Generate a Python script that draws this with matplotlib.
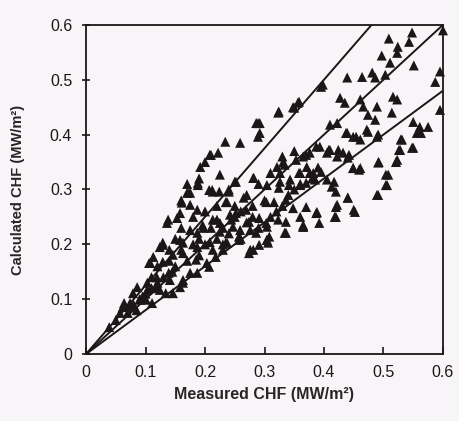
import matplotlib
matplotlib.use("Agg")
import matplotlib.pyplot as plt
import numpy as np

plt.rcParams['font.family'] = ['Liberation Sans', 'DejaVu Sans']

# Measured CHF (x) and calculated CHF (y), MW/m^2
measured = [
    0.600, 0.509, 0.548, 0.543, 0.524, 0.523, 0.497, 0.511, 0.551, 0.595, 0.587, 0.595,
    0.439, 0.464, 0.481, 0.486, 0.503, 0.395, 0.323, 0.348, 0.356, 0.427, 0.435, 0.461,
    0.466, 0.489, 0.516, 0.523, 0.514, 0.474, 0.486, 0.410, 0.422, 0.439, 0.449, 0.472,
    0.461, 0.489, 0.550, 0.561, 0.575, 0.556, 0.531, 0.548, 0.528, 0.523, 0.491, 0.449,
    0.461, 0.508, 0.506, 0.489, 0.393, 0.405, 0.410, 0.422, 0.432, 0.440, 0.376, 0.365,
    0.371, 0.360, 0.334, 0.326, 0.343, 0.376, 0.385, 0.405, 0.413, 0.360, 0.304, 0.292,
    0.292, 0.437, 0.454, 0.474, 0.491, 0.529, 0.563, 0.526, 0.550, 0.521, 0.492, 0.449,
    0.459, 0.408, 0.424, 0.442, 0.504, 0.504, 0.491, 0.417, 0.420, 0.440, 0.420, 0.450,
    0.420, 0.286, 0.324, 0.350, 0.358, 0.398, 0.289, 0.289, 0.259, 0.234, 0.222, 0.208,
    0.192, 0.225, 0.281, 0.250, 0.188, 0.171, 0.213, 0.321, 0.326, 0.210, 0.252, 0.282,
    0.207, 0.224, 0.240, 0.235, 0.331, 0.353, 0.370, 0.387, 0.358, 0.382, 0.395, 0.370,
    0.341, 0.324, 0.303, 0.316, 0.336, 0.348, 0.370, 0.387, 0.252, 0.269, 0.213, 0.244,
    0.274, 0.291, 0.323, 0.336, 0.365, 0.392, 0.286, 0.308, 0.257, 0.365, 0.336, 0.306,
    0.274, 0.291, 0.257, 0.235, 0.218, 0.207, 0.247, 0.303, 0.170, 0.212, 0.237, 0.161,
    0.175, 0.187, 0.138, 0.153, 0.220, 0.242, 0.175, 0.197, 0.225, 0.259, 0.129, 0.163,
    0.187, 0.208, 0.230, 0.276, 0.146, 0.113, 0.136, 0.158, 0.175, 0.188, 0.108, 0.129,
    0.124, 0.158, 0.187, 0.225, 0.213, 0.237, 0.276, 0.304, 0.281, 0.304, 0.158, 0.175,
    0.141, 0.124, 0.203, 0.187, 0.103, 0.079, 0.062, 0.074, 0.091, 0.111, 0.103, 0.086,
    0.119, 0.057, 0.146, 0.163, 0.440, 0.452, 0.422, 0.418, 0.365, 0.388, 0.334, 0.304,
    0.360, 0.129, 0.106, 0.163, 0.139, 0.163, 0.185, 0.134, 0.118, 0.101, 0.064, 0.072,
    0.050, 0.039, 0.250, 0.265, 0.196, 0.145, 0.095, 0.085,
    0.170, 0.190, 0.200, 0.220, 0.230, 0.240, 0.260, 0.270, 0.280, 0.290, 0.310, 0.320,
    0.330, 0.340, 0.350, 0.360, 0.380, 0.390, 0.300, 0.280, 0.260, 0.250, 0.230, 0.210,
    0.190, 0.180, 0.160, 0.150, 0.140, 0.130, 0.120, 0.110, 0.100, 0.090, 0.080, 0.070,
    0.200, 0.220, 0.180, 0.160, 0.150, 0.140, 0.120, 0.110, 0.170, 0.190, 0.200, 0.160,
    0.240, 0.270, 0.290, 0.310, 0.330, 0.350,
]
calculated = [
    0.590, 0.575, 0.586, 0.569, 0.560, 0.549, 0.544, 0.531, 0.526, 0.515, 0.496, 0.445,
    0.504, 0.505, 0.513, 0.504, 0.509, 0.487, 0.440, 0.450, 0.458, 0.467, 0.458, 0.464,
    0.451, 0.451, 0.469, 0.464, 0.440, 0.436, 0.427, 0.418, 0.421, 0.403, 0.396, 0.409,
    0.391, 0.396, 0.423, 0.414, 0.414, 0.403, 0.391, 0.376, 0.372, 0.354, 0.349, 0.339,
    0.339, 0.327, 0.308, 0.290, 0.378, 0.367, 0.372, 0.360, 0.367, 0.358, 0.367, 0.360,
    0.341, 0.330, 0.345, 0.330, 0.318, 0.330, 0.318, 0.318, 0.305, 0.308, 0.308, 0.421,
    0.403, 0.403, 0.396, 0.405, 0.400, 0.391, 0.403, 0.372, 0.376, 0.350, 0.350, 0.339,
    0.336, 0.372, 0.372, 0.363, 0.327, 0.308, 0.290, 0.314, 0.296, 0.285, 0.268, 0.263,
    0.250, 0.421, 0.442, 0.449, 0.460, 0.491, 0.421, 0.396, 0.385, 0.387, 0.367, 0.363,
    0.341, 0.327, 0.321, 0.314, 0.312, 0.294, 0.296, 0.341, 0.314, 0.363, 0.314, 0.321,
    0.299, 0.296, 0.296, 0.277, 0.349, 0.354, 0.363, 0.378, 0.330, 0.330, 0.332, 0.312,
    0.308, 0.303, 0.277, 0.277, 0.281, 0.266, 0.268, 0.257, 0.257, 0.263, 0.245, 0.245,
    0.241, 0.248, 0.245, 0.241, 0.235, 0.239, 0.221, 0.214, 0.214, 0.232, 0.221, 0.203,
    0.184, 0.199, 0.208, 0.203, 0.177, 0.159, 0.232, 0.239, 0.294, 0.299, 0.277, 0.276,
    0.272, 0.263, 0.245, 0.248, 0.245, 0.254, 0.226, 0.230, 0.223, 0.226, 0.203, 0.203,
    0.195, 0.204, 0.190, 0.190, 0.181, 0.177, 0.239, 0.257, 0.294, 0.308, 0.166, 0.168,
    0.195, 0.208, 0.221, 0.239, 0.190, 0.203, 0.226, 0.232, 0.190, 0.208, 0.122, 0.148,
    0.135, 0.117, 0.166, 0.148, 0.117, 0.111, 0.086, 0.093, 0.099, 0.093, 0.130, 0.122,
    0.140, 0.075, 0.111, 0.135, 0.285, 0.259, 0.272, 0.250, 0.232, 0.259, 0.221, 0.208,
    0.250, 0.199, 0.166, 0.184, 0.148, 0.130, 0.172, 0.111, 0.122, 0.099, 0.093, 0.086,
    0.062, 0.049, 0.270, 0.285, 0.235, 0.150, 0.105, 0.080,
    0.170, 0.180, 0.200, 0.210, 0.200, 0.220, 0.210, 0.240, 0.250, 0.230, 0.250, 0.260,
    0.270, 0.290, 0.300, 0.310, 0.320, 0.340, 0.280, 0.270, 0.260, 0.250, 0.230, 0.230,
    0.210, 0.200, 0.190, 0.160, 0.170, 0.140, 0.130, 0.120, 0.110, 0.100, 0.090, 0.075,
    0.260, 0.270, 0.250, 0.230, 0.210, 0.190, 0.160, 0.140, 0.310, 0.320, 0.350, 0.280,
    0.300, 0.290, 0.310, 0.330, 0.360, 0.370,
]

# Reference lines through the origin (slope = calculated / measured)
line_slopes = [1.25, 1.0, 0.8]

x_ticks = [0, 0.1, 0.2, 0.3, 0.4, 0.5, 0.6]
y_ticks = [0, 0.1, 0.2, 0.3, 0.4, 0.5, 0.6]

ink = '#1c1618'
bg = '#f7f5f7'

fig = plt.figure(figsize=(4.6, 4.21), dpi=100, facecolor=bg)
ax = fig.add_axes([0.187, 0.159, 0.776, 0.782], facecolor=bg)

xl = np.array([0, 0.6])
for s in line_slopes:
    ax.plot(xl, s * xl, color=ink, lw=1.4, zorder=2)

ax.scatter(measured, calculated, marker='^', s=52, color=ink, edgecolors='none', zorder=3,
           clip_on=False)

ax.set_xlim(0, 0.6)
ax.set_ylim(0, 0.6)
ax.set_xticks(x_ticks)
ax.set_yticks(y_ticks)
ax.set_xticklabels([f"{t:g}" for t in x_ticks])
ax.set_yticklabels([f"{t:g}" for t in y_ticks])
ax.tick_params(axis='x', direction='in', length=5, width=1.2, colors=ink, labelsize=11.5, pad=8)
ax.tick_params(axis='y', direction='inout', length=6, width=1.2, colors=ink, labelsize=11.5, pad=7)
for sp in ax.spines.values():
    sp.set_color(ink)
    sp.set_linewidth(1.3)

ax.set_xlabel('Measured CHF (MW/m²)', fontsize=11.5, fontweight='bold', color='#2a2426', labelpad=5)
ax.set_ylabel('Calculated CHF (MW/m²)', fontsize=10.5, fontweight='bold', color='#2a2426', labelpad=18)

fig.savefig('out.png', dpi=100, facecolor=bg)
